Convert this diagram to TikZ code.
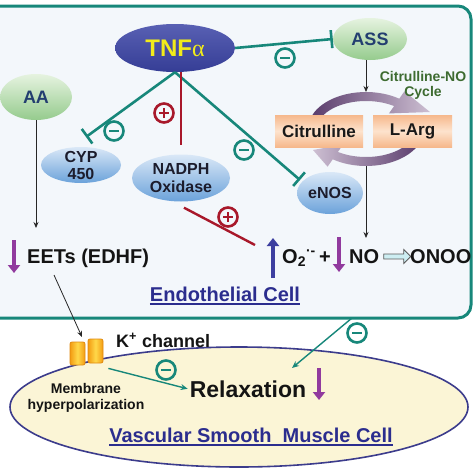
\documentclass[tikz,border=0pt]{standalone}
\usepackage{fontspec}
\setmainfont{Liberation Sans}
\newfontfamily\serifalpha{Liberation Serif}
\usetikzlibrary{shapes.geometric,shapes.arrows,arrows.meta,calc}
\definecolor{tealc}{HTML}{17877A}
\definecolor{redc}{HTML}{A8182A}
\definecolor{navy}{HTML}{2B2D8E}
\definecolor{tnfblue}{HTML}{3B44A6}
\definecolor{tnfyel}{HTML}{F2EC1A}
\definecolor{purp}{HTML}{913A9E}
\definecolor{upblue}{HTML}{3D3FA0}
\definecolor{cellbg}{HTML}{F3F7FB}
\definecolor{smcbg}{HTML}{FBF5D6}
\definecolor{smcline}{HTML}{3C3C8C}
\definecolor{gtext}{HTML}{3D6B30}
\definecolor{aatext}{HTML}{233E70}
\definecolor{blueT}{HTML}{DAE8F7}
\definecolor{blueB}{HTML}{6BA2DA}
\definecolor{blueText}{HTML}{1C1C2C}
\definecolor{greenT}{HTML}{E6F3E0}
\definecolor{greenB}{HTML}{95CB8D}
\definecolor{peachE}{HTML}{F6B88C}
\definecolor{peachM}{HTML}{FDE3CD}
\definecolor{cycD}{HTML}{5A3C6C}
\definecolor{cycL}{HTML}{CDBFD2}
\definecolor{kOr}{HTML}{F39C12}
\definecolor{kYe}{HTML}{FFD84A}
\definecolor{kLine}{HTML}{E08A10}
\definecolor{convfill}{HTML}{CDEEF2}
\newcommand\fz[2]{\fontsize{#1}{#2}\selectfont}
\begin{document}
\begin{tikzpicture}[x=1pt,y=-1pt,font=\bfseries,
  inhib/.style={draw=tealc,line width=2.6,-{Bar[width=18pt,line width=2.6pt]}},
  thinarr/.style={draw=black!85,line width=0.8,-{Stealth[length=6pt,width=5pt]}},
  tealarr/.style={draw=tealc,line width=1.4,-{Stealth[length=7pt,width=6pt]}},
  bigarr/.style={line width=4.2,-{Triangle[length=8pt,width=12pt]}},
  mc/.style={circle,draw=tealc,line width=2.6,minimum size=19,inner sep=0,fill=cellbg,
    path picture={\draw[tealc,line width=2.8] ([xshift=-5pt]path picture bounding box.center)--([xshift=5pt]path picture bounding box.center);}},
  pc/.style={circle,draw=redc,line width=2.6,minimum size=19,inner sep=0,fill=cellbg,
    path picture={\draw[redc,line width=2.6] ([xshift=-5pt]path picture bounding box.center)--([xshift=5pt]path picture bounding box.center) ([yshift=-5pt]path picture bounding box.center)--([yshift=5pt]path picture bounding box.center);}},
  blueell/.style={ellipse,inner sep=0,top color=blueT,bottom color=blueB,draw=none,text=blueText},
  greenell/.style={ellipse,inner sep=0,top color=greenT,bottom color=greenB,draw=none,text=aatext},
  peachbox/.style={rectangle,inner sep=0,top color=peachE,bottom color=peachE,middle color=peachM,draw=none,text=black!90},
  kch/.style={rectangle,rounded corners=2,draw=kLine,line width=0.8,left color=kOr,right color=kOr,middle color=kYe,inner sep=0},
  txt/.style={inner sep=0,text=black!92}
]
\useasboundingbox (0,0) rectangle (474,474);
\begin{scope}
\clip (0,0) rectangle (474,474);
\fill[white] (0,0) rectangle (474,474);
% cells
\draw[tealc,line width=3,fill=cellbg,rounded corners=13] (-14,6) rectangle (471,318);
\draw[smcline,line width=1.6,fill=smcbg] (239,407) ellipse [x radius=229,y radius=60];

% citrulline-NO cycle arrows
\begin{scope}[shift={(366,129)}]
\shade[left color=cycD,right color=cycL] (200:58 and 37) arc[start angle=200,end angle=305,x radius=58,y radius=37]
  -- (305:67 and 46) -- (64,-17) -- (305:40 and 19) -- (305:49 and 28)
  arc[start angle=305,end angle=200,x radius=49,y radius=28] -- cycle;
\shade[left color=cycL,right color=cycD] (20:58 and 37) arc[start angle=20,end angle=125,x radius=58,y radius=37]
  -- (125:67 and 46) -- (-53,21) -- (125:40 and 19) -- (125:49 and 28)
  arc[start angle=125,end angle=20,x radius=49,y radius=28] -- cycle;
\end{scope}

% nodes
\node[ellipse,inner sep=0,top color=tnfblue!85!white,bottom color=tnfblue!90!black,draw=none,
  minimum width=120,minimum height=48,text=tnfyel] (tnf) at (175,48) {\fz{24}{28}TNF{\serifalpha\mdseries α}};
\node[greenell,minimum width=72,minimum height=46] (aa) at (36,97) {\fz{18}{20}AA};
\node[greenell,minimum width=74,minimum height=42] (ass) at (370,39) {\fz{18}{20}ASS};
\node[blueell,minimum width=80,minimum height=36] (cyp) at (81,165) {};
\node[align=center,text=blueText,font=\bfseries\fz{16}{17},inner sep=0] (cyplbl) at (cyp) {CYP\\450};
\node[blueell,minimum width=98,minimum height=47] (nadph) at (181,178) {};
\node[align=center,text=blueText,font=\bfseries\fz{16}{18},inner sep=0] (nadphlbl) at (nadph) {NADPH\\Oxidase};
\node[blueell,minimum width=66,minimum height=42] (enos) at (330,193) {\fz{16}{18}eNOS};
\node[peachbox,minimum width=88,minimum height=32] (citr) at (319,131) {\fz{17}{20}Citrulline};
\node[peachbox,minimum width=79,minimum height=32] (larg) at (412.5,131) {\fz{17}{20}L-Arg};
\node[align=center,text=gtext,font=\bfseries\fz{14}{15},inner sep=0] (cyctxt) at (423,85) {Citrulline-NO\\Cycle};

% inhibition / activation from TNF
\coordinate (cypbar) at (86,137);
\coordinate (enosbar) at (300,180);
\draw[inhib] (tnf.south) -- (cypbar);
\draw[inhib] (tnf.south) -- (enosbar);
\draw[redc,line width=2.6,shorten >=9pt] (tnf.south -| nadph.north) -- (nadph.north);
\draw[inhib] (tnf.east) -- (ass.west);
\coordinate (redEnd) at (255,245);
\draw[redc,line width=2.4] ([xshift=3pt,yshift=-6pt]nadph.south) -- (redEnd);

\node[mc] (m1) at (114,131) {};
\node[pc] (p1) at (164,113) {};
\node[mc] (m2) at (244,150) {};
\node[mc] (m3) at (285,58) {};
\node[pc] (p2) at (228,217) {};

% cycle arrows
\coordinate (cycTop) at (366,92);
\coordinate (cycBot) at (366,166);
\coordinate (noTop) at (366,238);
\draw[thinarr] (ass.south -| cycTop) -- (cycTop);
\draw[thinarr] (cycBot) -- (noTop);

% AA
\coordinate (aaEnd) at (36,228);
\draw[thinarr] (aa.south) -- (aaEnd);

% bottom line of endothelium
\coordinate (eea) at (14,240); \coordinate (eeb) at (14,273);
\draw[bigarr,draw=purp] (eea) -- (eeb);
\node[txt,anchor=base west,font=\bfseries\fz{20}{22}] (eets) at (27,263) {EETs (EDHF)};
\coordinate (o2a) at (273,278); \coordinate (o2b) at (273,238);
\draw[bigarr,draw=upblue] (o2a) -- (o2b);
\node[txt,anchor=base west,font=\bfseries\fz{20}{22}] (o2) at (282,263) {O\textsubscript{2}\textsuperscript{·-}\,+};
\coordinate (noa) at (339,237); \coordinate (nob) at (339,272);
\draw[bigarr,draw=purp] (noa) -- (nob);
\node[txt,anchor=base west,font=\bfseries\fz{20}{22}] (no) at (349,263) {NO};
\node[single arrow,draw=black!65,fill=convfill,line width=0.8,minimum height=27,minimum width=14,
  single arrow head extend=3.5,inner sep=1.5] (conv) at (396,256.5) {};
\node[txt,anchor=base west,font=\bfseries\fz{20}{22}] (onoo) at (410,263) {ONOO};

\node[inner sep=0,anchor=base,text=navy,font=\bfseries\fz{20}{22}] (endo) at (225,301) {Endothelial Cell};
\draw[navy,line width=1.5] ([yshift=-3pt]endo.base west) -- ([yshift=-3pt]endo.base east);

% smooth muscle cell
\node[kch,minimum width=15,minimum height=23] (k1) at (77.5,353.5) {};
\node[kch,minimum width=15,minimum height=24] (k2) at (95.5,351) {};
\coordinate (kIn) at (82,337);
\draw[thinarr] ([xshift=27pt,yshift=-12pt]eets.base west) -- (kIn);
\node[txt,anchor=base west,font=\bfseries\fz{18}{20}] (ktext) at (116,347) {K\textsuperscript{+} channel};
\node[txt,align=center,font=\bfseries\fz{14}{16}] (memb) at (86,398) {Membrane\\hyperpolarization};
\node[txt,anchor=base,font=\bfseries\fz{23}{26},inner sep=2] (relax) at (248,397) {Relaxation};
\draw[tealarr] ([xshift=5pt,yshift=-5pt]k2.south east) -- (relax.west);
\node[mc,fill=smcbg] (m4) at (166,370) {};
\coordinate (relA) at (319,368); \coordinate (relB) at (319,400);
\draw[bigarr,draw=purp] (relA) -- (relB);
\coordinate (cellOut) at (352,318); \coordinate (relIn) at (292,368);
\draw[tealarr] (cellOut) -- (relIn);
\node[mc,fill=white] (m5) at (357,333) {};
\node[inner sep=0,anchor=base,text=navy,font=\bfseries\fz{20}{22}] (vsmc) at (251,442) {Vascular Smooth\ \ Muscle Cell};
\draw[navy,line width=1.5] ([yshift=-3pt]vsmc.base west) -- ([yshift=-3pt]vsmc.base east);
\end{scope}
\end{tikzpicture}
\end{document}
